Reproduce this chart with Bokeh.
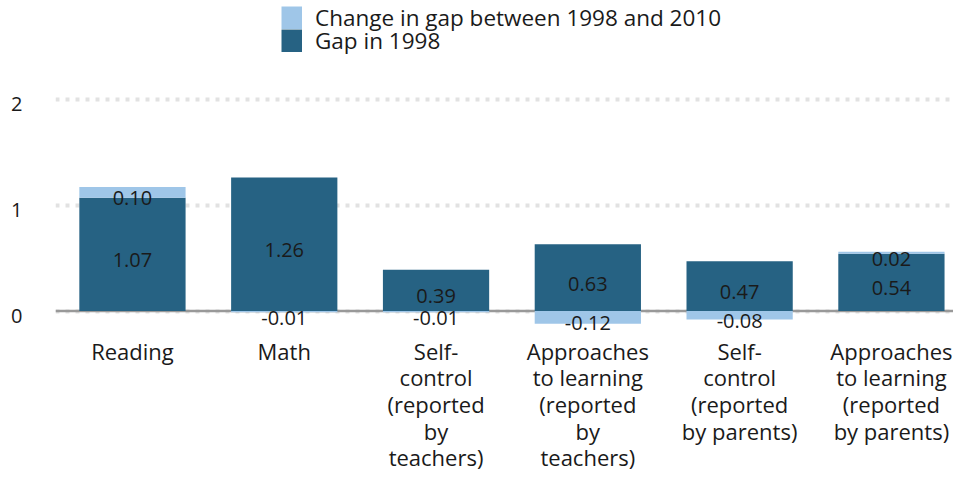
from bokeh.plotting import figure
from bokeh.models import (ColumnDataSource, Legend, LegendItem, FixedTicker, Span,
                          LinearAxis, Range1d)
from bokeh.core.properties import value
from bokeh.embed import file_html
from bokeh.resources import INLINE

categories = ["Reading", "Math", "Self-\ncontrol\n(reported\nby\nteachers)",
              "Approaches\nto learning\n(reported\nby\nteachers)",
              "Self-\ncontrol\n(reported\nby parents)",
              "Approaches\nto learning\n(reported\nby parents)"]
gap_1998 = [1.07, 1.26, 0.39, 0.63, 0.47, 0.54]
change = [0.10, -0.01, -0.01, -0.12, -0.08, 0.02]
y_ticks = [0, 1, 2]
legend_labels = ["Change in gap between 1998 and 2010", "Gap in 1998"]

DARK = "#266283"
LIGHT = "#9fc6e8"
FONT = "Open Sans"
TXT = "#1a1a1a"

xs = list(range(len(categories)))
light_bottom = [g if c > 0 else c for g, c in zip(gap_1998, change)]
light_top = [g + c if c > 0 else 0 for g, c in zip(gap_1998, change)]

src = ColumnDataSource(dict(
    x=xs, gap=gap_1998, zero=[0] * len(xs),
    lb=light_bottom, lt=light_top,
    gap_mid=[g / 2 for g in gap_1998],
    ch_mid=[(b + t) / 2 for b, t in zip(light_bottom, light_top)],
    gap_lbl=["%.2f" % g for g in gap_1998],
    ch_lbl=["%.2f" % c for c in change],
))

FH = 335  # expected frame height
Y0, Y1 = -0.23, 2.93
p = figure(width=953, height=475, x_range=(-0.507, 5.409),
           y_range=(Y0, Y1), y_axis_location=None,
           output_backend="svg", toolbar_location=None,
           min_border_left=55, min_border_right=0, min_border_top=0,
           min_border_bottom=0)
p.outline_line_color = None
p.background_fill_color = "white"

# tick labels sit a few pixels below their gridlines, as in the original
shift = 5 / (FH / (Y1 - Y0))
p.extra_y_ranges = {"lbl": Range1d(Y0 + shift, Y1 + shift)}
yax = LinearAxis(y_range_name="lbl", ticker=FixedTicker(ticks=y_ticks))
yax.axis_line_color = None
yax.major_tick_line_color = None
yax.minor_tick_line_color = None
yax.major_tick_out = 0
yax.major_tick_in = 0
yax.major_label_text_font = FONT
yax.major_label_text_font_size = "20px"
yax.major_label_text_color = TXT
yax.major_label_standoff = 33
p.add_layout(yax, "left")

zero_line = Span(location=0, dimension="width", line_color="#999999",
                 line_width=2.5, level="underlay")
p.add_layout(zero_line)

r_dark = p.vbar(x="x", bottom="zero", top="gap", width=0.70, source=src,
                fill_color=DARK, line_color=None)
r_light = p.vbar(x="x", bottom="lb", top="lt", width=0.70, source=src,
                 fill_color=LIGHT, line_color=None)

p.text(x="x", y="gap_mid", text="gap_lbl", source=src, text_align="center",
       text_baseline="middle", y_offset=6, text_font_size="20px",
       text_font=value(FONT), text_color=TXT)
p.text(x="x", y="ch_mid", text="ch_lbl", source=src, text_align="center",
       text_baseline="middle", y_offset=6, text_font_size="20px",
       text_font=value(FONT), text_color=TXT)

p.xgrid.visible = False
p.ygrid.ticker = FixedTicker(ticks=y_ticks)
p.ygrid.grid_line_color = "#e2e2e2"
p.ygrid.grid_line_width = 4
p.ygrid.grid_line_dash = "4 6"

p.xaxis.ticker = FixedTicker(ticks=xs)
p.xaxis.major_label_overrides = {i: c for i, c in enumerate(categories)}
p.xaxis.axis_line_color = None
p.xaxis.major_tick_line_color = None
p.xaxis.minor_tick_line_color = None
p.xaxis.major_tick_out = 0
p.xaxis.major_tick_in = 0
p.xaxis.major_label_text_font = FONT
p.xaxis.major_label_text_font_size = "22px"
p.xaxis.major_label_text_color = TXT
p.xaxis.major_label_text_line_height = 0.89
p.xaxis.major_label_standoff = 0

# legend keys: hidden thick lines over the bar data, so the two squares touch
key_light = p.line(x="x", y="gap", source=src, line_color=LIGHT, line_width=23,
                   line_cap="butt", visible=False)
key_dark = p.line(x="x", y="gap", source=src, line_color=DARK, line_width=23,
                  line_cap="butt", visible=False)

for i, (lab, rend) in enumerate(zip(legend_labels, [key_light, key_dark])):
    lg = Legend(items=[LegendItem(label=lab, renderers=[rend])],
                location=(226, int(FH - 32.5 - 23 * i)))
    lg.border_line_color = None
    lg.background_fill_alpha = 0
    lg.inactive_fill_alpha = 0
    lg.padding = 0
    lg.margin = 0
    lg.spacing = 0
    lg.glyph_width = 21
    lg.glyph_height = 23
    lg.label_height = 23
    lg.label_standoff = 13
    lg.label_text_font = FONT
    lg.label_text_font_size = "22.5px"
    lg.label_text_color = TXT
    lg.label_text_baseline = "middle"
    p.add_layout(lg)

open("out.html", "w").write(file_html(p, INLINE))
